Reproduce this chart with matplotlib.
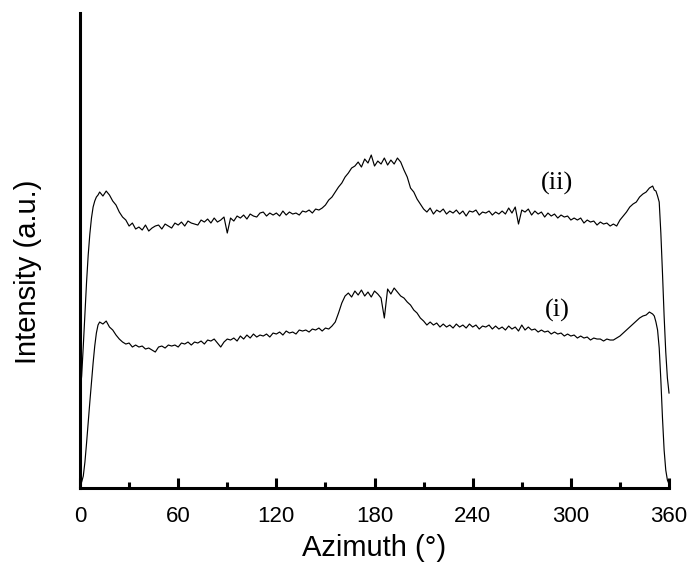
import numpy as np
import matplotlib.pyplot as plt

# angle grid (deg): fine steps at the edges, 2 deg in the middle
azimuth = list(range(0, 12)) + list(range(12, 351, 2)) + list(range(351, 361))

# curve (ii), upper trace
intensity_ii = [
    95, 112, 142, 175, 206, 233, 254, 270, 281, 287, 291, 293,
    296, 292, 297, 293, 287, 283, 276, 271, 268, 262,
    265, 259, 261, 258, 263, 257, 260, 262, 263, 259,
    264, 262, 260, 265, 263, 266, 262, 267, 265, 264,
    263, 268, 266, 269, 265, 270, 266, 268, 271, 255,
    270, 267, 272, 270, 273, 269, 274, 272, 271, 275,
    276, 272, 275, 273, 275, 272, 277, 273, 276, 274,
    275, 273, 277, 276, 278, 275, 279, 278, 280, 283,
    288, 291, 296, 301, 305, 311, 315, 320, 322, 326,
    321, 329, 325, 333, 322, 327, 324, 330, 323, 328,
    324, 330, 326, 318, 311, 300, 296, 289, 284, 279,
    276, 280, 274, 278, 276, 279, 274, 277, 275, 278,
    274, 277, 272, 277, 276, 278, 273, 276, 275, 277,
    273, 276, 274, 277, 274, 280, 275, 281, 264, 278,
    276, 279, 273, 277, 274, 276, 271, 275, 272, 274,
    270, 273, 271, 272, 268, 270, 268, 270, 265, 268,
    266, 267, 263, 266, 264, 265, 262, 264, 262, 268,
    272, 276, 281, 284, 286, 291, 294, 296, 300, 302,
    298, 297, 292, 286, 255, 215, 172, 136, 110, 95,
]

# curve (i), lower trace
intensity_i = [
    3, 6, 12, 26, 45, 66, 86, 106, 125, 142, 155, 163,
    166, 164, 167, 161, 158, 153, 149, 146, 144, 145,
    141, 143, 141, 142, 139, 140, 138, 136, 141, 142,
    140, 143, 142, 143, 141, 145, 144, 146, 143, 146,
    145, 147, 144, 148, 147, 149, 145, 141, 146, 149,
    148, 150, 147, 152, 149, 153, 150, 154, 151, 153,
    152, 154, 151, 155, 154, 156, 153, 157, 155, 156,
    154, 158, 157, 158, 156, 159, 158, 160, 157, 160,
    159, 162, 166, 175, 185, 192, 195, 191, 197, 193,
    198, 192, 196, 191, 197, 194, 190, 170, 199, 194,
    200, 196, 192, 190, 186, 183, 178, 175, 170, 167,
    163, 166, 163, 165, 161, 164, 161, 163, 160, 164,
    161, 163, 160, 164, 161, 163, 159, 162, 161, 163,
    159, 162, 159, 161, 158, 162, 159, 161, 157, 163,
    158, 161, 158, 159, 156, 158, 156, 157, 154, 156,
    154, 155, 152, 154, 152, 153, 150, 152, 150, 151,
    148, 150, 149, 149, 147, 149, 148, 148, 150, 152,
    155, 158, 161, 164, 167, 170, 172, 173, 176, 174,
    172, 166, 158, 140, 108, 70, 38, 18, 8, 4,
]

fig = plt.figure(figsize=(6.91, 5.67), dpi=100)
ax = fig.add_axes([0.1158, 0.1393, 0.8524, 0.8377])

ax.plot(azimuth, intensity_ii, color='k', linewidth=0.85, clip_on=False)
ax.plot(azimuth, intensity_i, color='k', linewidth=0.85, clip_on=False)

serif = {'family': 'Liberation Serif', 'size': 19}
ax.text(291.6, 305, '(ii)', fontdict=serif, ha='center', va='center')
ax.text(291.6, 178, '(i)', fontdict=serif, ha='center', va='center')

ax.set_xlim(0, 360)
ax.set_ylim(0, 475)
ax.set_xticks(np.arange(0, 361, 60))
ax.set_xticks(np.arange(30, 360, 60), minor=True)
ax.set_yticks([])

for spine in ['top', 'right']:
    ax.spines[spine].set_visible(False)
for spine in ['left', 'bottom']:
    ax.spines[spine].set_linewidth(2.2)
    ax.spines[spine].set_color('k')

ax.tick_params(axis='x', which='major', direction='in', length=7, width=2.2,
               labelsize=16, pad=13)
ax.tick_params(axis='x', which='minor', direction='in', length=4.5, width=2.2)
for label in ax.get_xticklabels():
    label.set_fontname('Liberation Sans')

sans = {'family': 'Liberation Sans', 'size': 21}
ax.set_xlabel('Azimuth (°)', fontdict=sans, labelpad=5)
ax.set_ylabel('Intensity (a.u.)', fontdict=sans)
ax.yaxis.set_label_coords(-0.065, 0.456)

fig.savefig('out.png', dpi=100)
